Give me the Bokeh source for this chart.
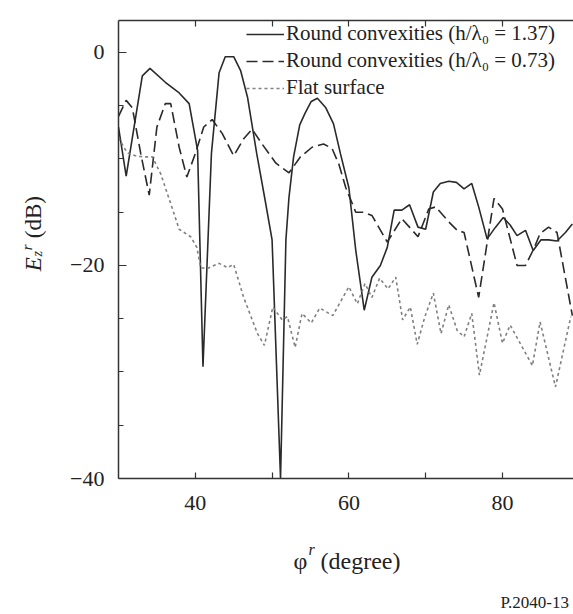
from math import pi
from bokeh.plotting import figure
from bokeh.layouts import row, column
from bokeh.models import (Legend, LegendItem, LinearAxis, FixedTicker,
                          Range1d, CustomJSTickFormatter)
from bokeh.core.properties import value
from bokeh.embed import file_html
from bokeh.resources import INLINE

# ---------------- data ----------------
solid_x = [30.0, 31.0, 33.1, 34.1, 36.1, 37.9, 39.2, 40.3, 41.0, 42.1, 43.1, 43.9,
           45.0, 45.9, 46.8, 48.0, 49.1, 50.0, 51.1, 51.8, 52.2, 52.8, 53.6, 54.3,
           55.1, 55.9, 57.0, 58.0, 58.9, 60.0, 60.9, 62.0, 63.0, 64.1, 65.0, 65.9,
           66.9, 67.9, 69.0, 70.0, 71.0, 71.9, 73.0, 74.0, 75.0, 76.0, 76.9, 78.0,
           79.1, 80.1, 81.0, 81.9, 83.0, 84.0, 85.0, 86.0, 87.1, 88.2, 89.1]
solid_y = [-7.0, -11.6, -2.2, -1.5, -2.8, -3.8, -4.8, -9.2, -29.5, -9.5, -1.9, -0.4,
           -0.4, -1.7, -4.2, -9.5, -13.9, -17.6, -40.0, -17.6, -13.6, -9.8, -6.8, -5.7,
           -4.6, -4.3, -5.2, -6.7, -9.5, -12.7, -18.6, -24.2, -21.1, -20.0, -18.3, -14.8,
           -14.8, -14.3, -16.4, -16.6, -13.1, -12.3, -12.1, -12.2, -12.8, -12.3, -14.5, -17.5,
           -16.4, -15.5, -16.2, -17.2, -16.7, -18.6, -17.6, -17.6, -17.7, -16.9, -16.1]

dash_x = [30.0, 31.0, 31.8, 32.9, 34.0, 35.0, 36.1, 36.8, 37.9, 38.9, 40.0, 41.1,
          42.2, 43.5, 45.0, 46.3, 47.4, 48.7, 50.5, 52.2, 53.7, 55.2, 56.7, 57.8,
          58.7, 59.6, 60.9, 61.9, 63.0, 65.0, 66.9, 69.0, 70.4, 71.3, 73.0, 74.1,
          75.0, 76.9, 78.9, 80.0, 81.9, 83.0, 84.1, 84.9, 86.0, 87.1, 89.1]
dash_y = [-6.0, -4.5, -5.2, -9.5, -13.4, -7.0, -4.8, -4.8, -8.9, -11.7, -9.5, -7.0,
          -6.3, -7.6, -9.7, -8.1, -7.2, -8.6, -10.4, -11.3, -9.8, -8.9, -8.6, -9.0,
          -10.5, -12.7, -15.0, -15.0, -15.3, -17.8, -15.6, -17.3, -14.7, -14.5, -15.9, -16.7,
          -16.9, -23.0, -13.7, -14.7, -20.0, -20.0, -18.4, -17.0, -16.4, -16.9, -24.7]

flat_x = [30.0, 31.1, 32.2, 33.1, 34.4, 35.5, 36.8, 37.9, 39.4, 40.2, 40.7, 41.5,
          43.1, 44.2, 45.0, 46.3, 48.1, 49.0, 50.1, 51.3, 52.0, 53.0, 53.9, 55.1,
          56.2, 57.9, 60.0, 61.1, 62.1, 63.0, 64.0, 65.1, 66.1, 67.0, 68.0, 68.9,
          69.9, 71.0, 72.0, 73.0, 74.1, 75.0, 76.0, 77.0, 78.9, 80.0, 81.0, 83.9,
          84.9, 86.9, 88.9]
flat_y = [-8.0, -9.4, -9.7, -9.8, -9.8, -11.4, -14.2, -16.6, -17.3, -18.3, -20.2, -20.3,
          -19.8, -20.2, -19.9, -23.0, -26.4, -27.5, -23.9, -25.1, -24.8, -27.7, -24.5, -25.4,
          -24.0, -24.7, -22.0, -23.6, -21.7, -23.0, -21.2, -22.2, -21.1, -25.1, -23.9, -27.4,
          -24.8, -22.6, -26.4, -23.7, -26.1, -26.7, -24.5, -30.3, -23.5, -27.3, -25.6, -29.4,
          -25.3, -31.4, -24.8]

series_labels = ["Round convexities (h/\u03bb\u2080 = 1.37)",
                 "Round convexities (h/\u03bb\u2080 = 0.73)",
                 "Flat surface"]

x_major = [40, 60, 80]
x_minor = [50, 70]
y_major = [-40, -20, 0]
y_minor = [-35, -30, -25, -15, -10, -5]
y_tick_text = {-40: "\u221240", -20: "\u221220", 0: "0"}

FONT = "Liberation Serif"
INK = "#222222"

W, H = 573, 614
YLAB_W = 60          # strip that holds the y title
MAIN_W = W - YLAB_W
MAIN_H = 528         # top border + frame + tick labels
XLAB_H = H - MAIN_H  # strip that holds the x title and figure id

# ---------------- main figure ----------------
p = figure(width=MAIN_W, height=MAIN_H,
           x_range=Range1d(30, 89.25), y_range=Range1d(-40, 3.0),
           output_backend="svg", toolbar_location=None,
           min_border_left=118 - YLAB_W, min_border_right=0,
           min_border_top=20, min_border_bottom=50)
p.grid.visible = False
p.outline_line_color = None
p.background_fill_color = "white"
p.border_fill_color = "white"

xa = p.xaxis[0]
xa.ticker = FixedTicker(ticks=x_major, minor_ticks=x_minor)
ya = p.yaxis[0]
ya.ticker = FixedTicker(ticks=y_major, minor_ticks=y_minor)
ya.major_label_overrides = y_tick_text

for ax in (xa, ya):
    ax.axis_line_color = "#333333"
    ax.axis_line_width = 1.5
    ax.major_tick_line_color = "#333333"
    ax.minor_tick_line_color = "#333333"
    ax.major_tick_line_width = 1.2
    ax.minor_tick_line_width = 1.2
    ax.major_tick_out = 0
    ax.minor_tick_out = 0
    ax.major_label_text_font = FONT
    ax.major_label_text_font_size = "22px"
    ax.major_label_text_color = INK
xa.major_tick_in = 6
xa.minor_tick_in = 6
xa.major_label_standoff = 17
ya.major_tick_in = 8
ya.minor_tick_in = 5
ya.major_label_standoff = 14

top = LinearAxis(ticker=FixedTicker(ticks=x_major + x_minor),
                 formatter=CustomJSTickFormatter(code="return ''"),
                 axis_line_color="#333333", axis_line_width=1.5,
                 major_tick_in=6, major_tick_out=0,
                 major_tick_line_color="#333333", major_tick_line_width=1.2,
                 minor_tick_line_color=None, major_label_standoff=0)
p.add_layout(top, "above")

r1 = p.line(solid_x, solid_y, line_color="#2a2a2a", line_width=1.6)
r2 = p.line(dash_x, dash_y, line_color="#2a2a2a", line_width=1.6, line_dash="11 5")
r3 = p.line(flat_x, flat_y, line_color="#808080", line_width=1.6, line_dash="3 3")

legend = Legend(items=[LegendItem(label=series_labels[0], renderers=[r1]),
                       LegendItem(label=series_labels[1], renderers=[r2]),
                       LegendItem(label=series_labels[2], renderers=[r3])],
                location=(128, 378),
                border_line_color=None, background_fill_alpha=0,
                label_text_font=FONT, label_text_font_size="21px",
                label_text_color=INK,
                glyph_width=38, glyph_height=20, label_height=20,
                label_standoff=2, spacing=2, padding=3, margin=0)
p.add_layout(legend)


# ---------------- title strips (pixel coordinates, y up) ----------------
def strip(w, h):
    f = figure(width=w, height=h, x_range=Range1d(0, w), y_range=Range1d(0, h),
               output_backend="svg", toolbar_location=None,
               x_axis_type=None, y_axis_type=None, min_border=0)
    f.grid.visible = False
    f.outline_line_color = None
    f.background_fill_color = "white"
    f.border_fill_color = "white"
    return f


def txt(f, x, y, s, size="22px", style="normal", angle=0.0):
    f.text(x=[x], y=[y], text=[s], angle=angle,
           text_font=value(FONT), text_font_size=value(size),
           text_font_style=style, text_color=INK,
           text_baseline="alphabetic", text_align="left")


# y title: E_z^r (dB), reading upwards
ylab = strip(YLAB_W, MAIN_H)
txt(ylab, 33, 239, "E", "23px", "italic", pi / 2)
txt(ylab, 37, 256, "z", "14px", "italic", pi / 2)
txt(ylab, 26, 263, "r", "15px", "italic", pi / 2)
txt(ylab, 33, 277, "(dB)", "23px", "normal", pi / 2)

# x title: phi^r (degree) and the figure id
xlab = strip(W, XLAB_H)
txt(xlab, 293, 54, "\u03c6", "24px", "normal")
txt(xlab, 308, 65, "r", "16px", "italic")
txt(xlab, 320, 54, "(degree)", "24px", "normal")
txt(xlab, 500, 12, "P.2040-13", "17px", "normal")

layout = column(row(ylab, p, spacing=0), xlab, spacing=0)
open("out.html", "w").write(file_html(layout, INLINE))
